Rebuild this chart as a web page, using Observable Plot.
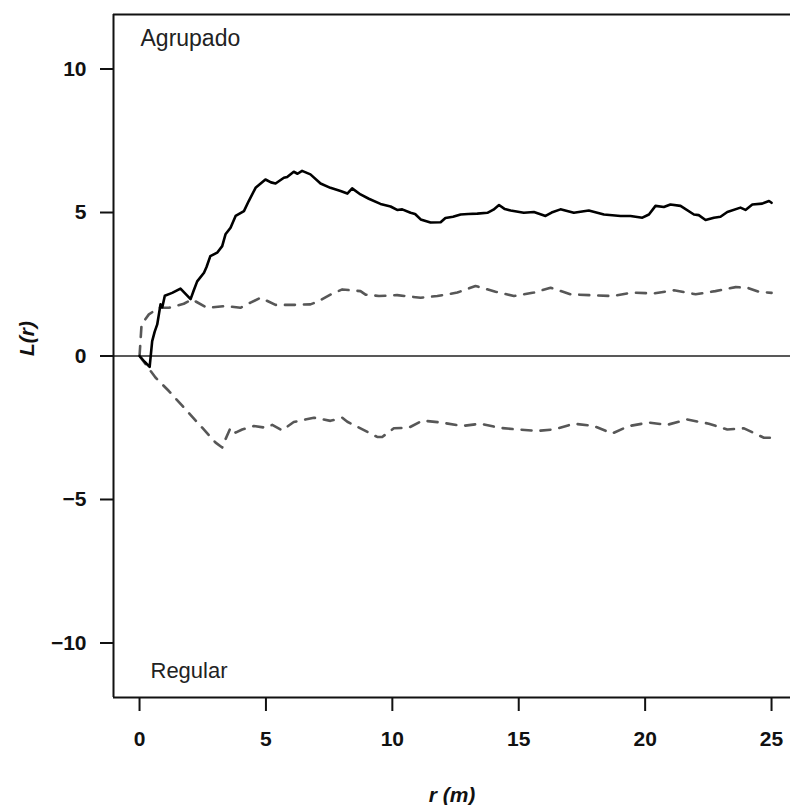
<!DOCTYPE html>
<html>
<head>
<meta charset="utf-8">
<script src="https://cdn.jsdelivr.net/npm/d3@7"></script>
<script src="https://cdn.jsdelivr.net/npm/@observablehq/plot@0.6"></script>
<style>
  html, body { margin: 0; padding: 0; background: #fff; overflow: hidden; }
  #chart svg g[aria-label$="tick"] path { stroke-width: 2px; }
  #chart svg g[aria-label$="tick label"] text { font-weight: bold; font-size: 21px; }
</style>
</head>
<body>
<div id="chart"></div>
<script>
// Observed L(r)
const rObs = [0, 0.2, 0.4, 0.5, 0.6, 0.7, 0.83, 0.9, 1.0, 1.29, 1.62, 2.02, 2.15, 2.28, 2.55, 2.65, 2.8, 3.07, 3.27, 3.4, 3.6, 3.8, 4.13, 4.32, 4.59, 4.98, 5.2, 5.38, 5.71, 5.84, 6.1, 6.25, 6.43, 6.76, 7.16, 7.55, 7.95, 8.22, 8.41, 8.74, 9.07, 9.53, 9.93, 10.19, 10.39, 10.72, 10.9, 11.12, 11.51, 11.91, 12.1, 12.4, 12.7, 13.0, 13.36, 13.76, 14.0, 14.22, 14.45, 14.68, 15.2, 15.6, 16.06, 16.3, 16.65, 17.18, 17.77, 18.37, 19.03, 19.42, 19.89, 20.15, 20.41, 20.74, 21.0, 21.4, 21.93, 22.12, 22.39, 22.72, 22.98, 23.25, 23.77, 23.97, 24.24, 24.63, 24.9, 25.0];
const LObs = [0, -0.2, -0.38, 0.52, 0.85, 1.1, 1.8, 1.7, 2.1, 2.2, 2.35, 1.98, 2.3, 2.6, 2.9, 3.1, 3.48, 3.6, 3.83, 4.24, 4.47, 4.88, 5.05, 5.4, 5.86, 6.15, 6.05, 6.01, 6.21, 6.24, 6.42, 6.35, 6.45, 6.33, 6.01, 5.86, 5.75, 5.66, 5.84, 5.63, 5.48, 5.3, 5.21, 5.09, 5.11, 4.99, 4.95, 4.76, 4.65, 4.66, 4.81, 4.85, 4.93, 4.95, 4.96, 4.99, 5.1, 5.26, 5.12, 5.07, 4.99, 5.02, 4.88, 5.0, 5.11, 4.99, 5.07, 4.93, 4.88, 4.88, 4.82, 4.93, 5.23, 5.19, 5.28, 5.23, 4.93, 4.91, 4.74, 4.82, 4.85, 5.02, 5.17, 5.09, 5.28, 5.31, 5.4, 5.34];

// Upper envelope
const rUp = [0, 0.08, 0.37, 0.77, 1.16, 1.75, 2.08, 2.67, 3.4, 3.99, 4.39, 4.79, 5.38, 6.04, 6.76, 7.03, 7.55, 8.02, 8.74, 8.94, 9.47, 10.19, 11.12, 11.78, 12.57, 13.29, 14.08, 14.81, 15.6, 16.26, 17.05, 17.84, 18.7, 19.49, 20.34, 21.14, 22.0, 22.78, 23.58, 24.04, 24.5, 25.0];
const LUp = [0, 1.1, 1.45, 1.68, 1.68, 1.82, 1.97, 1.68, 1.74, 1.68, 1.86, 2.03, 1.78, 1.78, 1.80, 1.89, 2.14, 2.32, 2.26, 2.14, 2.09, 2.12, 2.03, 2.09, 2.21, 2.44, 2.24, 2.09, 2.21, 2.38, 2.15, 2.12, 2.09, 2.21, 2.18, 2.29, 2.15, 2.26, 2.4, 2.38, 2.24, 2.2];

// Lower envelope
const rLo = [0, 0.63, 1.16, 1.82, 2.48, 3.01, 3.27, 3.4, 3.6, 3.8, 4.06, 4.52, 4.98, 5.25, 5.64, 6.1, 6.9, 7.55, 8.02, 8.22, 8.74, 9.4, 9.6, 10.06, 10.65, 11.2, 11.95, 12.76, 13.49, 14.22, 14.94, 15.73, 16.39, 17.18, 17.97, 18.7, 19.36, 20.15, 20.87, 21.66, 22.52, 23.25, 23.91, 24.7, 25.0];
const LLo = [0, -0.75, -1.22, -1.86, -2.5, -3.02, -3.19, -2.9, -2.5, -2.67, -2.56, -2.44, -2.5, -2.4, -2.59, -2.3, -2.15, -2.26, -2.15, -2.29, -2.52, -2.82, -2.82, -2.52, -2.5, -2.25, -2.32, -2.44, -2.36, -2.5, -2.56, -2.61, -2.56, -2.36, -2.44, -2.7, -2.44, -2.32, -2.4, -2.21, -2.36, -2.56, -2.52, -2.85, -2.85];

const xTicks = [0, 5, 10, 15, 20, 25];
const yTicks = [-10, -5, 0, 5, 10];
const xDomain = [-1.03, 25.75];
const yDomain = [-11.9, 11.9];
const xLabel = "r (m)";
const yLabel = "L(r)";
const topNote = "Agrupado";
const bottomNote = "Regular";

const obs = rObs.map((r, i) => ({r, L: LObs[i]}));
const up = rUp.map((r, i) => ({r, L: LUp[i]}));
const lo = rLo.map((r, i) => ({r, L: LLo[i]}));

const chart = Plot.plot({
  width: 790,
  height: 805,
  marginLeft: 113,
  marginRight: 0,
  marginTop: 14,
  marginBottom: 108,
  style: {fontFamily: "'Liberation Sans', Arial, sans-serif", fontSize: "21px", color: "#111", background: "#fff"},
  x: {domain: xDomain, ticks: xTicks, tickSize: 14, tickPadding: 20, label: null},
  y: {domain: yDomain, ticks: yTicks, tickSize: 13, tickPadding: 14, label: null},
  marks: [
    Plot.ruleY([0], {stroke: "#222", strokeWidth: 1.4}),
    Plot.line(up, {x: "r", y: "L", stroke: "#575757", strokeWidth: 2.6, strokeDasharray: "10,9"}),
    Plot.line(lo, {x: "r", y: "L", stroke: "#575757", strokeWidth: 2.6, strokeDasharray: "10,9"}),
    Plot.line(obs, {x: "r", y: "L", stroke: "#000", strokeWidth: 2.6, strokeLinejoin: "round"}),
    Plot.ruleY([yDomain[1], yDomain[0]], {stroke: "#111", strokeWidth: 2}),
    Plot.ruleX([xDomain[0]], {stroke: "#111", strokeWidth: 2}),
    Plot.text([topNote], {frameAnchor: "top-left", dx: 27, dy: 15, textAnchor: "start", fontSize: 23, fontWeight: "normal", fill: "#222"}),
    Plot.text([bottomNote], {frameAnchor: "bottom-left", dx: 37, dy: -20, textAnchor: "start", fontSize: 22, fontWeight: "normal", fill: "#222"}),
    Plot.text([xLabel], {frameAnchor: "bottom", dy: 104, fontSize: 21, fontWeight: "bold", fontStyle: "italic", fill: "#111"}),
    Plot.text([yLabel], {frameAnchor: "left", dx: -86, rotate: -90, fontSize: 21, fontWeight: "bold", fontStyle: "italic", fill: "#111"})
  ]
});
document.getElementById("chart").appendChild(chart);
</script>
</body>
</html>
